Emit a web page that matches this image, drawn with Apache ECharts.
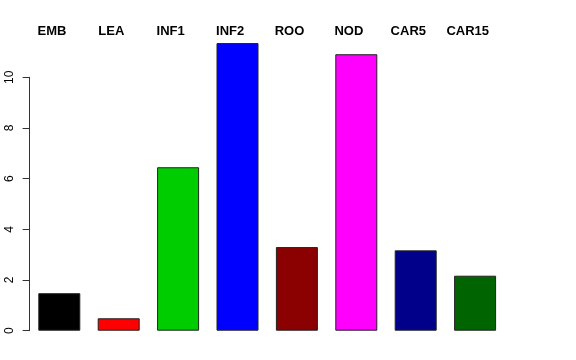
<!DOCTYPE html>
<html>
<head>
<meta charset="utf-8">
<script src="https://cdn.jsdelivr.net/npm/echarts@6/dist/echarts.min.js"></script>
<style>html,body{margin:0;padding:0;background:#fff}#c{width:576px;height:360px}</style>
</head>
<body>
<div id="c"></div>
<script>
const categories = ["EMB", "LEA", "INF1", "INF2", "ROO", "NOD", "CAR5", "CAR15"];
const values = [1.48, 0.49, 6.45, 11.35, 3.30, 10.91, 3.17, 2.17];
const barColors = ["#000000", "#FF0000", "#00CD00", "#0000FF", "#8B0000", "#FF00FF", "#00008B", "#006400"];
const yTicks = [0, 2, 4, 6, 8, 10];

const chart = echarts.init(document.getElementById('c'), null, {renderer: 'canvas'});
const plotLeft = 29.6, plotWidth = 475.2, plotBottom = 29.3;
chart.setOption({
  animation: false,
  backgroundColor: '#ffffff',
  grid: [
    {left: plotLeft, width: plotWidth, top: 26.6, bottom: plotBottom},
    {left: plotLeft, width: plotWidth, top: 77.3, bottom: plotBottom},
    {left: plotLeft - 7.4, width: plotWidth, top: 31, height: 1}
  ],
  xAxis: [
    {type: 'category', gridIndex: 0, data: categories, show: false},
    {type: 'category', gridIndex: 1, data: categories, show: false},
    {type: 'category', gridIndex: 2, data: categories, position: 'top',
     axisLine: {show: false}, axisTick: {show: false},
     axisLabel: {margin: 0, verticalAlign: 'middle', fontFamily: 'Liberation Sans, Arial, sans-serif',
                 fontWeight: 'bold', fontSize: 13, color: '#000', interval: 0}}
  ],
  yAxis: [
    {type: 'value', gridIndex: 0, min: 0, max: 12, show: false},
    {type: 'value', gridIndex: 1, min: yTicks[0], max: yTicks[yTicks.length - 1], interval: 2,
     splitLine: {show: false},
     axisLine: {show: true, lineStyle: {color: '#333', width: 1}},
     axisTick: {show: true, length: 7, lineStyle: {color: '#333'}},
     axisLabel: {rotate: 90, margin: 14, fontSize: 12, color: '#000', fontFamily: 'Liberation Sans, Arial, sans-serif'}},
    {type: 'value', gridIndex: 2, show: false}
  ],
  series: [{
    type: 'bar',
    xAxisIndex: 0, yAxisIndex: 0,
    barWidth: 42,
    data: values.map((v, i) => ({value: v, itemStyle: {color: barColors[i], borderColor: '#222', borderWidth: 1}}))
  }]
});
</script>
</body>
</html>
